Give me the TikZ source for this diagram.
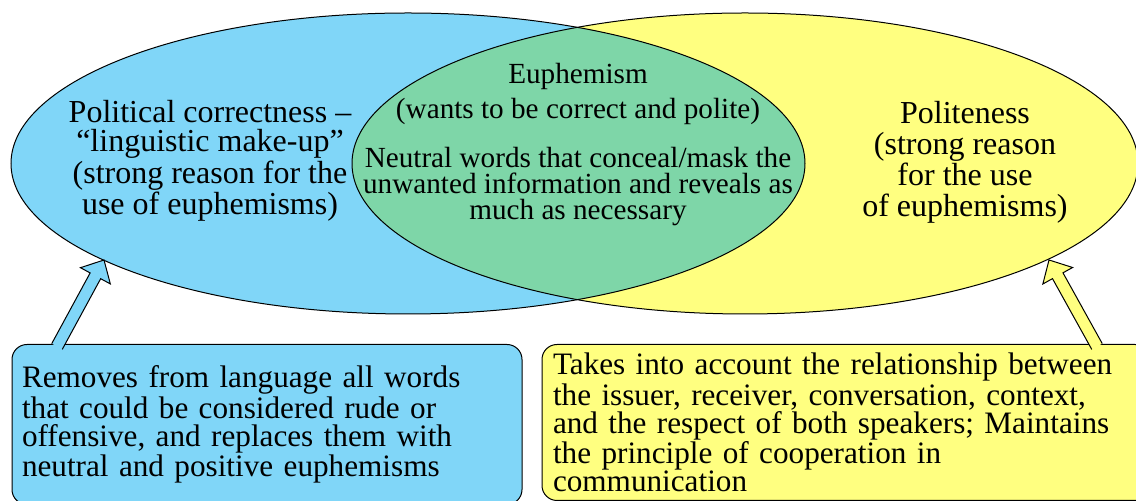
\documentclass[tikz,border=0pt]{standalone}
\usepackage{fontspec}
\setmainfont{Liberation Serif}
\usetikzlibrary{calc}
\definecolor{pcblue}{RGB}{128,214,248}
\definecolor{plyellow}{RGB}{255,255,128}
\definecolor{euphgreen}{RGB}{126,214,168}

\newcommand{\blockarrow}[3]{%
  \coordinate (#1-neck) at ($(#2)!9pt!(#1)$);
  \fill[#3] ($(#1)!3pt!90:(#2)$) -- ($(#1-neck)!3pt!90:(#2)$) -- ($(#1-neck)!8.5pt!90:(#2)$) -- (#2)
    -- ($(#1-neck)!8.5pt!-90:(#2)$) -- ($(#1-neck)!3pt!-90:(#2)$) -- ($(#1)!3pt!-90:(#2)$) -- cycle;
  \draw[line join=miter] ($(#1)!3pt!90:(#2)$) -- ($(#1-neck)!3pt!90:(#2)$) -- ($(#1-neck)!8.5pt!90:(#2)$) -- (#2)
    -- ($(#1-neck)!8.5pt!-90:(#2)$) -- ($(#1-neck)!3pt!-90:(#2)$) -- ($(#1)!3pt!-90:(#2)$);
}

\begin{document}
\begin{tikzpicture}[
    x=0.5pt, y=-0.5pt, line width=0.5pt, every node/.style={align=center},
    vennlabel/.style={inner sep=0pt, font=\fontsize{16}{14.5}\selectfont},
    euphlabel/.style={inner sep=0pt, font=\fontsize{14.6}{13}\selectfont},
    infobox/.style={draw, rounded corners=7.5pt, align=left, font=\fontsize{15.6}{14}\selectfont}
]
\useasboundingbox (0,0) rectangle (1136,501);
\coordinate (pc) at (408,163.5);
\coordinate (pl) at (745,163.5);

\fill[pcblue] (pc) ellipse [x radius=397, y radius=150.5];
\fill[plyellow] (pl) ellipse [x radius=393, y radius=150.5];
\begin{scope}
\clip (pc) ellipse [x radius=397, y radius=150.5];
\fill[euphgreen] (pl) ellipse [x radius=393, y radius=150.5];
\end{scope}
\draw (pc) ellipse [x radius=397, y radius=150.5];
\draw (pl) ellipse [x radius=393, y radius=150.5];

\node[vennlabel] (pc_text) at (210,161) {Political correctness –\\“linguistic make-up”\\(strong reason for the\\use of euphemisms)};
\node[vennlabel, font=\fontsize{16}{15.5}\selectfont] (pl_text) at (965,162) {Politeness\\(strong reason\\for the use\\of euphemisms)};
\node[euphlabel, font=\fontsize{14.6}{17.5}\selectfont] (euph_title) at (578,93.5) {Euphemism\\(wants to be correct and polite)};
\node[euphlabel] (euph_text) at (578,187) {Neutral words that conceal/mask the\\unwanted information and reveals as\\much as necessary};

\node[infobox, fill=pcblue, minimum width=255pt, minimum height=80pt, inner xsep=5pt, text width=245pt] (pc_box) at (267,424.5) {Removes from language all words\\that could be considered rude or\\offensive, and replaces them with\\neutral and positive euphemisms};
\node[infobox, fill=plyellow, minimum width=304pt, minimum height=78pt, inner xsep=5.5pt, text width=293pt] (pl_box) at (846,422.5) {Takes into account the relationship between\\the issuer, receiver, conversation, context,\\and the respect of both speakers; Maintains\\the principle of cooperation in\\communication};

\coordinate (pc_tail) at (57,346.5);
\coordinate (pc_tip) at (104,260);
\coordinate (pl_tail) at (1097,346.5);
\coordinate (pl_tip) at (1049,260);
\blockarrow{pc_tail}{pc_tip}{pcblue}
\blockarrow{pl_tail}{pl_tip}{plyellow}
\end{tikzpicture}
\end{document}
